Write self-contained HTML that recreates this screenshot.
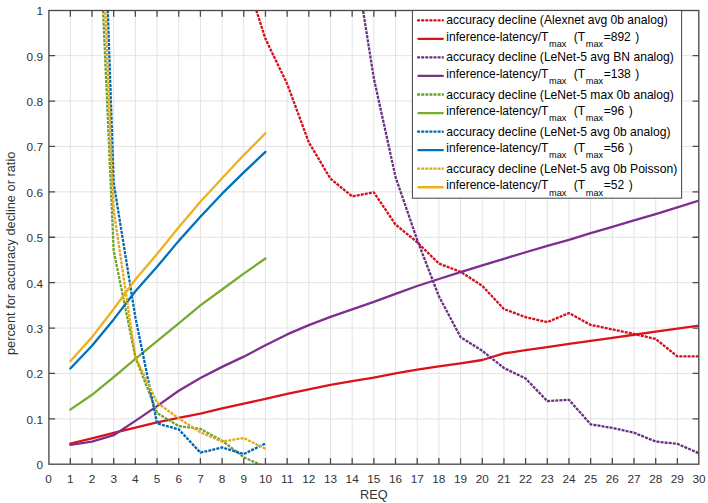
<!DOCTYPE html>
<html><head><meta charset="utf-8"><style>html,body{margin:0;padding:0;background:#fff;overflow:hidden}svg{display:block}text{white-space:pre}</style></head>
<body><svg width="708" height="503" viewBox="0 0 708 503">
<defs><clipPath id="clip"><rect x="48.90" y="10.50" width="649.90" height="453.70"/></clipPath></defs>
<rect width="708" height="503" fill="#fff"/>
<path d="M70.33 10.50V464.20M92.01 10.50V464.20M113.69 10.50V464.20M135.37 10.50V464.20M157.05 10.50V464.20M178.73 10.50V464.20M200.41 10.50V464.20M222.09 10.50V464.20M243.77 10.50V464.20M265.45 10.50V464.20M287.13 10.50V464.20M308.81 10.50V464.20M330.49 10.50V464.20M352.17 10.50V464.20M373.85 10.50V464.20M395.53 10.50V464.20M417.21 10.50V464.20M438.89 10.50V464.20M460.57 10.50V464.20M482.25 10.50V464.20M503.93 10.50V464.20M525.61 10.50V464.20M547.29 10.50V464.20M568.97 10.50V464.20M590.65 10.50V464.20M612.33 10.50V464.20M634.01 10.50V464.20M655.69 10.50V464.20M677.37 10.50V464.20M48.90 418.85H698.80M48.90 373.45H698.80M48.90 328.05H698.80M48.90 282.65H698.80M48.90 237.25H698.80M48.90 191.85H698.80M48.90 146.45H698.80M48.90 101.05H698.80M48.90 55.65H698.80" stroke="#e3e3e3" stroke-width="1" fill="none"/>
<g clip-path="url(#clip)" fill="none" stroke-width="2.30" stroke-linejoin="round">
<polyline points="243.77,-28.79 265.45,38.85 287.13,83.80 308.81,142.36 330.49,178.68 352.17,196.39 373.85,192.30 395.53,224.54 417.21,242.24 438.89,263.58 460.57,271.75 482.25,285.83 503.93,308.98 525.61,317.15 547.29,322.15 568.97,313.07 590.65,324.87 612.33,329.41 634.01,333.95 655.69,338.95 677.37,356.43 699.05,356.43" stroke="#d0101e" stroke-dasharray="3.0 1.1"/>
<polyline points="70.33,443.50 92.01,438.42 113.69,432.92 135.37,427.57 157.05,422.48 178.73,417.94 200.41,413.58 222.09,408.32 243.77,403.64 265.45,398.87 287.13,393.88 308.81,389.34 330.49,384.80 352.17,381.17 373.85,377.54 395.53,373.45 417.21,369.59 438.89,366.32 460.57,363.33 482.25,360.01 503.93,353.43 525.61,350.11 547.29,347.04 568.97,343.97 590.65,340.90 612.33,337.83 634.01,334.76 655.69,331.69 677.37,328.62 699.05,325.55" stroke="#dc121a" stroke-linecap="round"/>
<polyline points="352.17,-57.85 373.85,78.35 395.53,176.87 417.21,239.97 438.89,296.27 460.57,337.13 482.25,350.75 503.93,368.00 525.61,378.44 547.29,401.14 568.97,399.78 590.65,424.30 612.33,427.93 634.01,432.70 655.69,441.55 677.37,443.82 699.05,453.35" stroke="#683080" stroke-dasharray="3.0 1.1"/>
<polyline points="70.33,444.82 92.01,441.64 113.69,435.19 135.37,420.89 157.05,406.14 178.73,390.70 200.41,377.99 222.09,366.87 243.77,356.65 265.45,345.21 287.13,334.41 308.81,325.10 330.49,316.93 352.17,309.44 373.85,301.94 395.53,293.82 417.21,286.01 438.89,279.02 460.57,272.21 482.25,265.40 503.93,258.81 525.61,252.23 547.29,245.88 568.97,239.84 590.65,233.16 612.33,226.81 634.01,220.45 655.69,214.10 677.37,207.29 699.05,200.48" stroke="#7e2f8e" stroke-linecap="round"/>
<polyline points="92.01,-239.45 113.69,250.87 135.37,357.11 157.05,412.95 178.73,426.11 200.41,428.84 222.09,440.73 243.77,457.26 265.45,466.97" stroke="#6ea02a" stroke-dasharray="3.0 1.1"/>
<polyline points="70.33,409.59 92.01,394.79 113.69,377.22 135.37,358.92 157.05,341.22 178.73,323.37 200.41,305.44 222.09,289.46 243.77,273.57 265.45,258.50" stroke="#77ac30" stroke-linecap="round"/>
<polyline points="92.01,-452.83 113.69,182.77 135.37,317.15 157.05,423.39 178.73,429.38 200.41,452.67 222.09,447.45 243.77,454.04 265.45,443.50" stroke="#0068b0" stroke-dasharray="3.0 1.1"/>
<polyline points="70.33,368.46 92.01,345.76 113.69,319.42 135.37,291.28 157.05,266.76 178.73,240.88 200.41,216.82 222.09,193.67 243.77,172.33 265.45,151.90" stroke="#0072bd" stroke-linecap="round"/>
<polyline points="92.01,-307.55 113.69,210.01 135.37,357.11 157.05,402.51 178.73,418.40 200.41,432.24 222.09,441.55 243.77,438.01 265.45,448.81" stroke="#e2a818" stroke-dasharray="3.0 1.1"/>
<polyline points="70.33,361.19 92.01,337.13 113.69,308.98 135.37,279.47 157.05,254.05 178.73,227.26 200.41,201.84 222.09,178.23 243.77,155.08 265.45,133.28" stroke="#edb120" stroke-linecap="round"/>
</g>
<path d="M70.33 464.20v-6.2M70.33 10.50v6.2M92.01 464.20v-6.2M92.01 10.50v6.2M113.69 464.20v-6.2M113.69 10.50v6.2M135.37 464.20v-6.2M135.37 10.50v6.2M157.05 464.20v-6.2M157.05 10.50v6.2M178.73 464.20v-6.2M178.73 10.50v6.2M200.41 464.20v-6.2M200.41 10.50v6.2M222.09 464.20v-6.2M222.09 10.50v6.2M243.77 464.20v-6.2M243.77 10.50v6.2M265.45 464.20v-6.2M265.45 10.50v6.2M287.13 464.20v-6.2M287.13 10.50v6.2M308.81 464.20v-6.2M308.81 10.50v6.2M330.49 464.20v-6.2M330.49 10.50v6.2M352.17 464.20v-6.2M352.17 10.50v6.2M373.85 464.20v-6.2M373.85 10.50v6.2M395.53 464.20v-6.2M395.53 10.50v6.2M417.21 464.20v-6.2M417.21 10.50v6.2M438.89 464.20v-6.2M438.89 10.50v6.2M460.57 464.20v-6.2M460.57 10.50v6.2M482.25 464.20v-6.2M482.25 10.50v6.2M503.93 464.20v-6.2M503.93 10.50v6.2M525.61 464.20v-6.2M525.61 10.50v6.2M547.29 464.20v-6.2M547.29 10.50v6.2M568.97 464.20v-6.2M568.97 10.50v6.2M590.65 464.20v-6.2M590.65 10.50v6.2M612.33 464.20v-6.2M612.33 10.50v6.2M634.01 464.20v-6.2M634.01 10.50v6.2M655.69 464.20v-6.2M655.69 10.50v6.2M677.37 464.20v-6.2M677.37 10.50v6.2M48.90 418.85h6.2M698.80 418.85h-6.2M48.90 373.45h6.2M698.80 373.45h-6.2M48.90 328.05h6.2M698.80 328.05h-6.2M48.90 282.65h6.2M698.80 282.65h-6.2M48.90 237.25h6.2M698.80 237.25h-6.2M48.90 191.85h6.2M698.80 191.85h-6.2M48.90 146.45h6.2M698.80 146.45h-6.2M48.90 101.05h6.2M698.80 101.05h-6.2M48.90 55.65h6.2M698.80 55.65h-6.2" stroke="#4a4a4a" stroke-width="1.3" fill="none"/>
<rect x="48.90" y="10.50" width="649.90" height="453.70" stroke="#4a4a4a" stroke-width="1.35" fill="none"/>
<g font-family="&apos;Liberation Sans&apos;, sans-serif" font-size="11.8" fill="#333333"><text x="48.65" y="482.7" text-anchor="middle">0</text><text x="70.33" y="482.7" text-anchor="middle">1</text><text x="92.01" y="482.7" text-anchor="middle">2</text><text x="113.69" y="482.7" text-anchor="middle">3</text><text x="135.37" y="482.7" text-anchor="middle">4</text><text x="157.05" y="482.7" text-anchor="middle">5</text><text x="178.73" y="482.7" text-anchor="middle">6</text><text x="200.41" y="482.7" text-anchor="middle">7</text><text x="222.09" y="482.7" text-anchor="middle">8</text><text x="243.77" y="482.7" text-anchor="middle">9</text><text x="265.45" y="482.7" text-anchor="middle">10</text><text x="287.13" y="482.7" text-anchor="middle">11</text><text x="308.81" y="482.7" text-anchor="middle">12</text><text x="330.49" y="482.7" text-anchor="middle">13</text><text x="352.17" y="482.7" text-anchor="middle">14</text><text x="373.85" y="482.7" text-anchor="middle">15</text><text x="395.53" y="482.7" text-anchor="middle">16</text><text x="417.21" y="482.7" text-anchor="middle">17</text><text x="438.89" y="482.7" text-anchor="middle">18</text><text x="460.57" y="482.7" text-anchor="middle">19</text><text x="482.25" y="482.7" text-anchor="middle">20</text><text x="503.93" y="482.7" text-anchor="middle">21</text><text x="525.61" y="482.7" text-anchor="middle">22</text><text x="547.29" y="482.7" text-anchor="middle">23</text><text x="568.97" y="482.7" text-anchor="middle">24</text><text x="590.65" y="482.7" text-anchor="middle">25</text><text x="612.33" y="482.7" text-anchor="middle">26</text><text x="634.01" y="482.7" text-anchor="middle">27</text><text x="655.69" y="482.7" text-anchor="middle">28</text><text x="677.37" y="482.7" text-anchor="middle">29</text><text x="699.05" y="482.7" text-anchor="middle">30</text><text x="43" y="469.25" text-anchor="end">0</text><text x="43" y="423.85" text-anchor="end">0.1</text><text x="43" y="378.45" text-anchor="end">0.2</text><text x="43" y="333.05" text-anchor="end">0.3</text><text x="43" y="287.65" text-anchor="end">0.4</text><text x="43" y="242.25" text-anchor="end">0.5</text><text x="43" y="196.85" text-anchor="end">0.6</text><text x="43" y="151.45" text-anchor="end">0.7</text><text x="43" y="106.05" text-anchor="end">0.8</text><text x="43" y="60.65" text-anchor="end">0.9</text><text x="43" y="15.25" text-anchor="end">1</text></g>
<text font-family="&apos;Liberation Sans&apos;, sans-serif" font-size="12.7" fill="#333333" x="373.85" y="499.4" text-anchor="middle">REQ</text>
<text font-family="&apos;Liberation Sans&apos;, sans-serif" font-size="12.8" fill="#333333" transform="translate(14.8 253.35) rotate(-90)" text-anchor="middle">percent for accuracy decline or ratio</text>
<rect x="412.4" y="10.50" width="269.20" height="187.70" fill="#fff" stroke="#4a4a4a" stroke-width="1.05"/>
<line x1="417.1" x2="443.8" y1="20.30" y2="20.30" stroke="#d0101e" stroke-width="2.3" stroke-dasharray="3.0 1.1"/>
<text font-family="&apos;Liberation Sans&apos;, sans-serif" font-size="12.12" fill="#000" x="446.3" y="24.30">accuracy decline (Alexnet avg 0b analog)</text>
<line x1="418.4" x2="442.8" y1="38.85" y2="38.85" stroke="#dc121a" stroke-width="2.3" stroke-linecap="round"/>
<text font-family="&apos;Liberation Sans&apos;, sans-serif" font-size="12" fill="#000" x="446.3" y="40.95">inference-latency/T<tspan font-size="9.2" dx="0.75" dy="6.2">max</tspan><tspan dx="0.6" dy="-6.2">  (T</tspan><tspan font-size="9.2" dx="0.75" dy="6.2">max</tspan><tspan dx="0.6" dy="-6.2">=892</tspan><tspan dx="1.2"> )</tspan></text>
<line x1="417.1" x2="443.8" y1="57.40" y2="57.40" stroke="#683080" stroke-width="2.3" stroke-dasharray="3.0 1.1"/>
<text font-family="&apos;Liberation Sans&apos;, sans-serif" font-size="12.12" fill="#000" x="446.3" y="61.40">accuracy decline (LeNet-5 avg BN analog)</text>
<line x1="418.4" x2="442.8" y1="75.95" y2="75.95" stroke="#7e2f8e" stroke-width="2.3" stroke-linecap="round"/>
<text font-family="&apos;Liberation Sans&apos;, sans-serif" font-size="12" fill="#000" x="446.3" y="78.05">inference-latency/T<tspan font-size="9.2" dx="0.75" dy="6.2">max</tspan><tspan dx="0.6" dy="-6.2">  (T</tspan><tspan font-size="9.2" dx="0.75" dy="6.2">max</tspan><tspan dx="0.6" dy="-6.2">=138</tspan><tspan dx="1.2"> )</tspan></text>
<line x1="417.1" x2="443.8" y1="94.50" y2="94.50" stroke="#6ea02a" stroke-width="2.3" stroke-dasharray="3.0 1.1"/>
<text font-family="&apos;Liberation Sans&apos;, sans-serif" font-size="12.12" fill="#000" x="446.3" y="98.50">accuracy decline (LeNet-5 max 0b analog)</text>
<line x1="418.4" x2="442.8" y1="113.05" y2="113.05" stroke="#77ac30" stroke-width="2.3" stroke-linecap="round"/>
<text font-family="&apos;Liberation Sans&apos;, sans-serif" font-size="12" fill="#000" x="446.3" y="115.15">inference-latency/T<tspan font-size="9.2" dx="0.75" dy="6.2">max</tspan><tspan dx="0.6" dy="-6.2">  (T</tspan><tspan font-size="9.2" dx="0.75" dy="6.2">max</tspan><tspan dx="0.6" dy="-6.2">=96</tspan><tspan dx="1.2"> )</tspan></text>
<line x1="417.1" x2="443.8" y1="131.60" y2="131.60" stroke="#0068b0" stroke-width="2.3" stroke-dasharray="3.0 1.1"/>
<text font-family="&apos;Liberation Sans&apos;, sans-serif" font-size="12.12" fill="#000" x="446.3" y="135.60">accuracy decline (LeNet-5 avg 0b analog)</text>
<line x1="418.4" x2="442.8" y1="150.15" y2="150.15" stroke="#0072bd" stroke-width="2.3" stroke-linecap="round"/>
<text font-family="&apos;Liberation Sans&apos;, sans-serif" font-size="12" fill="#000" x="446.3" y="152.25">inference-latency/T<tspan font-size="9.2" dx="0.75" dy="6.2">max</tspan><tspan dx="0.6" dy="-6.2">  (T</tspan><tspan font-size="9.2" dx="0.75" dy="6.2">max</tspan><tspan dx="0.6" dy="-6.2">=56</tspan><tspan dx="1.2"> )</tspan></text>
<line x1="417.1" x2="443.8" y1="168.70" y2="168.70" stroke="#e2a818" stroke-width="2.3" stroke-dasharray="3.0 1.1"/>
<text font-family="&apos;Liberation Sans&apos;, sans-serif" font-size="12.12" fill="#000" x="446.3" y="172.70">accuracy decline (LeNet-5 avg 0b Poisson)</text>
<line x1="418.4" x2="442.8" y1="187.25" y2="187.25" stroke="#edb120" stroke-width="2.3" stroke-linecap="round"/>
<text font-family="&apos;Liberation Sans&apos;, sans-serif" font-size="12" fill="#000" x="446.3" y="189.35">inference-latency/T<tspan font-size="9.2" dx="0.75" dy="6.2">max</tspan><tspan dx="0.6" dy="-6.2">  (T</tspan><tspan font-size="9.2" dx="0.75" dy="6.2">max</tspan><tspan dx="0.6" dy="-6.2">=52</tspan><tspan dx="1.2"> )</tspan></text>
</svg></body></html>
